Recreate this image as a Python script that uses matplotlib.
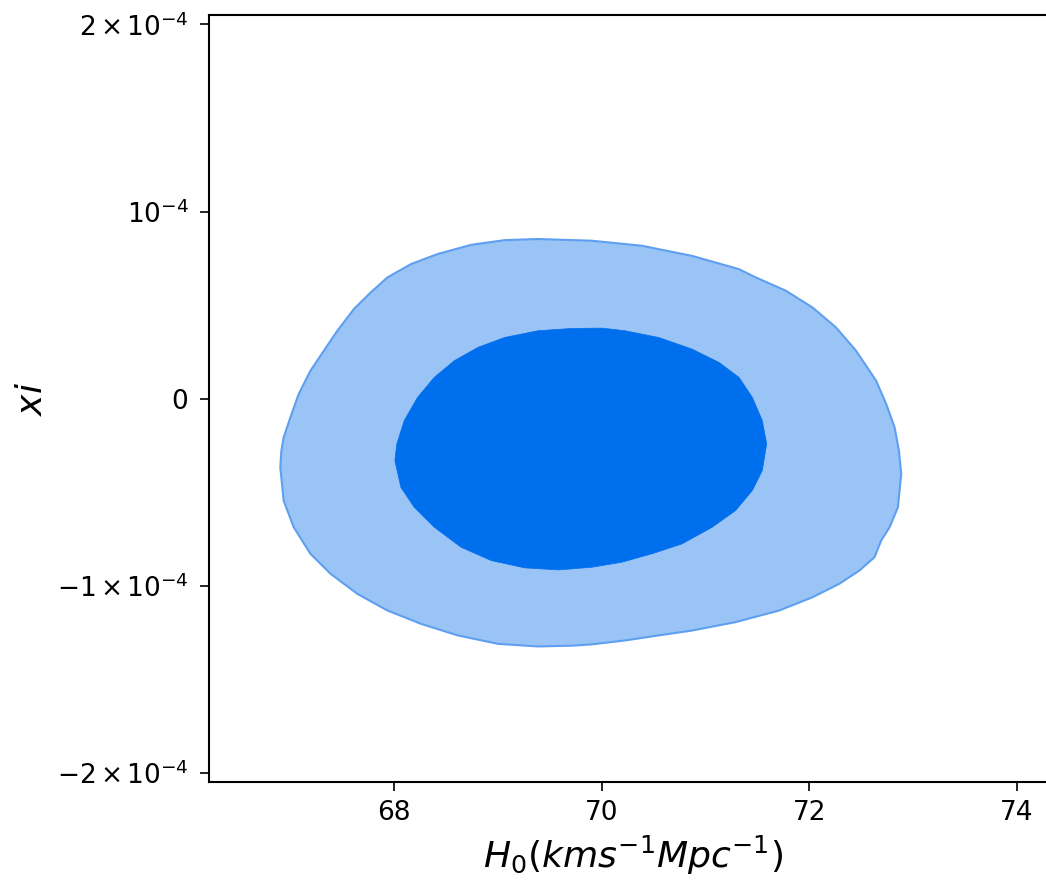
import numpy as np
import matplotlib
matplotlib.use("Agg")
import matplotlib.pyplot as plt

# outer (95%) contour outline, H0 and xi (units of 1e-4)
outer_h0 = [66.904, 66.914, 66.936, 67.001, 67.081, 67.194, 67.323, 67.453, 67.613, 67.775,
            67.936, 68.162, 68.420, 68.742, 69.064, 69.387, 69.902, 70.386, 70.869, 71.321,
            71.482, 71.772, 72.030, 72.255, 72.449, 72.642, 72.739, 72.820, 72.862, 72.884,
            72.852, 72.772, 72.691, 72.627, 72.482, 72.288, 72.030, 71.708, 71.288, 70.869,
            70.547, 70.224, 69.902, 69.709, 69.387, 69.000, 68.613, 68.258, 67.936, 67.646,
            67.388, 67.194, 67.033, 66.936]
outer_xi = [-0.367, -0.278, -0.207, -0.100, 0.025, 0.149, 0.256, 0.363, 0.479, 0.568,
            0.648, 0.719, 0.773, 0.822, 0.847, 0.853, 0.844, 0.817, 0.763, 0.692,
            0.648, 0.577, 0.487, 0.381, 0.256, 0.096, -0.028, -0.153, -0.278, -0.402,
            -0.580, -0.687, -0.758, -0.847, -0.918, -0.989, -1.061, -1.132, -1.194, -1.239,
            -1.265, -1.292, -1.313, -1.320, -1.324, -1.310, -1.265, -1.203, -1.132, -1.043,
            -0.936, -0.829, -0.687, -0.545]

# inner (68%) contour outline
inner_h0 = [68.007, 68.026, 68.097, 68.226, 68.387, 68.580, 68.807, 69.064, 69.387, 69.709,
            69.999, 70.224, 70.547, 70.869, 71.128, 71.321, 71.450, 71.546, 71.588, 71.546,
            71.450, 71.288, 71.063, 70.773, 70.483, 70.192, 69.902, 69.580, 69.257, 68.935,
            68.645, 68.387, 68.193, 68.065]
inner_xi = [-0.331, -0.242, -0.117, 0.007, 0.114, 0.203, 0.274, 0.327, 0.363, 0.375,
            0.377, 0.363, 0.327, 0.265, 0.194, 0.114, 0.007, -0.117, -0.242, -0.384,
            -0.491, -0.598, -0.687, -0.776, -0.829, -0.874, -0.901, -0.915, -0.904, -0.865,
            -0.794, -0.687, -0.580, -0.474]

xticks = [68, 70, 72, 74]
yticks = [-2e-4, -1e-4, 0, 1e-4, 2e-4]
ytick_labels = [r'$-2\/{\times}\/10^{-4}$', r'$-1\/{\times}\/10^{-4}$', r'$0$',
                r'$10^{-4}$', r'$2\/{\times}\/10^{-4}$']

fig = plt.figure(figsize=(10.46, 8.82), dpi=100)
ax = fig.add_axes([0.2001, 0.113, 0.81, 0.870])

ox = np.array(outer_h0)
oy = np.array(outer_xi) * 1e-4
ix = np.array(inner_h0)
iy = np.array(inner_xi) * 1e-4

ax.fill(ox, oy, facecolor='#9ac4f6', edgecolor='#5e9ff0', linewidth=1.5,
        joinstyle='round', zorder=1)
ax.fill(ix, iy, facecolor='#006fed', edgecolor='#006fed', linewidth=0.5,
        joinstyle='round', zorder=2)

ax.set_xlim(66.22, 74.38)
ax.set_ylim(-2.05e-4, 2.05e-4)
ax.set_xticks(xticks)
ax.set_xticklabels([str(t) for t in xticks])
ax.set_yticks(yticks)
ax.set_yticklabels(ytick_labels)
ax.tick_params(labelsize=19, length=6.5, width=1.2)
ax.tick_params(axis='x', pad=6)
ax.tick_params(axis='y', pad=8.5)

for s in ['left', 'bottom', 'top']:
    ax.spines[s].set_linewidth(1.5)
ax.spines['right'].set_visible(False)

ax.set_xlabel(r'$H_0(kms^{-1}Mpc^{-1})$', fontsize=26, labelpad=6)
ax.set_ylabel(r'$xi$', fontsize=26, labelpad=6)

fig.savefig('out.png', dpi=100)
